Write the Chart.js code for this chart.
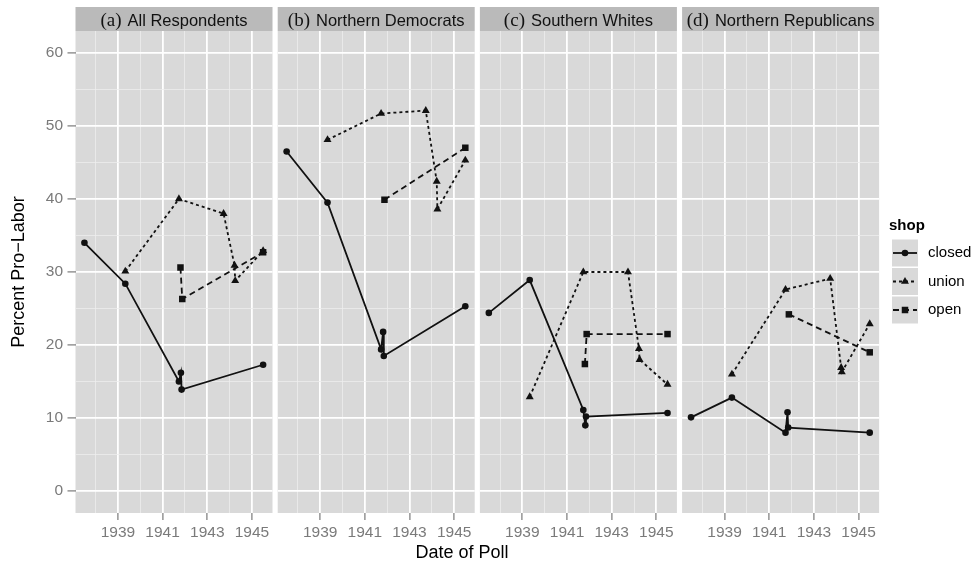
<!DOCTYPE html>
<html>
<head>
<meta charset="utf-8">
<title>Percent Pro-Labor by Date of Poll</title>
<script src="https://cdn.jsdelivr.net/npm/chart.js@4/dist/chart.umd.min.js"></script>
<style>
  html, body { margin: 0; padding: 0; background: #ffffff; }
  #wrap { position: relative; width: 975px; height: 565px; overflow: hidden; }
  #wrap canvas { position: absolute; left: 0; top: 0; }
</style>
</head>
<body>
<div id="wrap">
  <canvas id="panel0" width="975" height="565"></canvas>
  <canvas id="panel1" width="975" height="565"></canvas>
  <canvas id="panel2" width="975" height="565"></canvas>
  <canvas id="panel3" width="975" height="565"></canvas>
</div>
<script>
// ---- data ----------------------------------------------------------------
const panelTags  = ['(a)', '(b)', '(c)', '(d)'];
const panelNames = ['All Respondents', 'Northern Democrats', 'Southern Whites', 'Northern Republicans'];
const shopNames  = ['closed', 'union', 'open'];

// poll dates (decimal years) for each question wording
const closedDates = [1937.5, 1939.33, 1941.73, 1941.82, 1941.85, 1945.5];
const unionDates  = [1939.33, 1941.73, 1943.73, 1944.22, 1944.25, 1945.5];
const openDates   = [1941.8, 1941.88, 1945.5];

// percent pro-labor, one row per panel (a)-(d); null = not asked in that group
const closedPct = [
  [34.0, 28.4, 15.0, 16.2, 13.9, 17.3],
  [46.5, 39.5, 19.4, 21.8, 18.5, 25.3],
  [24.4, 28.9, 11.1,  9.0, 10.2, 10.7],
  [10.1, 12.8,  8.0, 10.8,  8.7,  8.0]
];
const unionPct = [
  [30.1, 40.0, 38.0, 30.9, 28.8, 32.9],
  [48.1, 51.7, 52.1, 42.4, 38.6, 45.3],
  [12.9, 30.0, 30.0, 19.5, 18.0, 14.6],
  [16.0, 27.6, 29.1, 16.9, 16.3, 22.9]
];
const openPct = [
  [30.6, 26.3, 32.7],
  [null, 39.9, 47.0],
  [17.4, 21.5, 21.5],
  [null, 24.2, 19.0]
];

// axis ticks: odd years / multiples of ten are labelled, the rest are minor grid
const xTickValues = [1938, 1939, 1940, 1941, 1942, 1943, 1944, 1945];
const xTickLabels = ['', '1939', '', '1941', '', '1943', '', '1945'];
const yTickValues = [0, 5, 10, 15, 20, 25, 30, 35, 40, 45, 50, 55, 60];
const yTickLabels = ['0', '', '10', '', '20', '', '30', '', '40', '', '50', '', '60'];

// ---- look ----------------------------------------------------------------
const SANS  = '"Liberation Sans", Arial, Helvetica, sans-serif';
const SERIF = '"Liberation Serif", "Times New Roman", serif';
Chart.defaults.font.family = SANS;

const W = 975, H = 565;
const PANEL_LEFT0 = 75.5, PANEL_STEP = 202.2, PANEL_W = 197;
const PLOT_TOP = 31, PLOT_BOTTOM = 513, STRIP_TOP = 7;
const X_MIN = 1937.1, X_MAX = 1945.92, Y_MIN = -3, Y_MAX = 63;

const PANEL_BG = '#d9d9d9';
const STRIP_BG = '#bababa';
const INK = '#111111';
const TICK_GREY = '#7a7a7a';

const shopStyle = {
  closed: { dash: [],     pointStyle: 'circle',   radius: 3.3 },
  union:  { dash: [3, 3], pointStyle: 'triangle', radius: 4.6 },
  open:   { dash: [6, 4], pointStyle: 'rect',     radius: 4.6 }
};

function points(dates, values) {
  return dates.map((d, k) => ({ x: d, y: values[k] })).filter(p => p.y !== null);
}

function datasetsFor(i) {
  const series = { closed: [closedDates, closedPct[i]], union: [unionDates, unionPct[i]], open: [openDates, openPct[i]] };
  return shopNames.map(name => {
    const s = shopStyle[name];
    return {
      label: name,
      data: points(series[name][0], series[name][1]),
      borderColor: INK,
      borderWidth: 1.8,
      borderDash: s.dash,
      pointStyle: s.pointStyle,
      pointRadius: s.radius,
      pointBackgroundColor: INK,
      pointBorderWidth: 0,
      fill: false,
      tension: 0
    };
  });
}

// grey panel, strip and strip label behind each facet
const facetPlugin = {
  id: 'facet',
  beforeDraw(chart, args, opts) {
    const { ctx, chartArea: a } = chart;
    ctx.save();
    ctx.fillStyle = PANEL_BG;
    ctx.fillRect(a.left, a.top, a.right - a.left, a.bottom - a.top);
    ctx.fillStyle = STRIP_BG;
    ctx.fillRect(a.left, STRIP_TOP, a.right - a.left, a.top - STRIP_TOP);

    const tagFont = '19px ' + SERIF, nameFont = '16.5px ' + SANS, gap = 6;
    ctx.font = tagFont;  const wt = ctx.measureText(opts.tag).width;
    ctx.font = nameFont; const wn = ctx.measureText(opts.name).width;
    const x0 = (a.left + a.right) / 2 - (wt + gap + wn) / 2;
    ctx.fillStyle = INK;
    ctx.textAlign = 'left';
    ctx.textBaseline = 'alphabetic';
    ctx.font = tagFont;  ctx.fillText(opts.tag, x0, 26);
    ctx.font = nameFont; ctx.fillText(opts.name, x0 + wt + gap, 26);
    ctx.restore();
  }
};

function keyPoint(ctx, style, x, y, r) {
  ctx.beginPath();
  if (style === 'circle') {
    ctx.arc(x, y, r, 0, Math.PI * 2);
  } else if (style === 'triangle') {
    ctx.moveTo(x, y - r);
    ctx.lineTo(x + r * 0.866, y + r / 2);
    ctx.lineTo(x - r * 0.866, y + r / 2);
    ctx.closePath();
  } else {
    const s = r * Math.SQRT1_2;
    ctx.rect(x - s, y - s, 2 * s, 2 * s);
  }
  ctx.fill();
}

// shared x title and the shop legend, drawn on the last facet's canvas
const guidePlugin = {
  id: 'guides',
  afterDraw(chart) {
    const ctx = chart.ctx;
    ctx.save();
    ctx.fillStyle = '#000';
    ctx.font = '18px ' + SANS;
    ctx.textAlign = 'center';
    ctx.textBaseline = 'middle';
    ctx.fillText('Date of Poll', 462, 553);

    ctx.textAlign = 'left';
    ctx.font = 'bold 15px ' + SANS;
    ctx.fillText('shop', 889, 226);

    const keyX = 892, keyW = 26, keyH = 27, keyTops = [239.5, 268, 296.5];
    shopNames.forEach((name, k) => {
      const s = shopStyle[name];
      const top = keyTops[k], cy = top + keyH / 2;
      ctx.fillStyle = PANEL_BG;
      ctx.fillRect(keyX, top, keyW, keyH);
      ctx.strokeStyle = INK;
      ctx.lineWidth = 1.8;
      ctx.setLineDash(s.dash);
      ctx.beginPath();
      ctx.moveTo(keyX + 1, cy);
      ctx.lineTo(keyX + keyW - 1, cy);
      ctx.stroke();
      ctx.setLineDash([]);
      ctx.fillStyle = INK;
      keyPoint(ctx, s.pointStyle, keyX + keyW / 2, cy, s.radius);
      ctx.fillStyle = '#000';
      ctx.font = '15px ' + SANS;
      ctx.textBaseline = 'middle';
      ctx.fillText(name, 928, cy);
    });
    ctx.restore();
  }
};

const isMajorX = v => xTickLabels[xTickValues.indexOf(v)] !== '';
const isMajorY = v => yTickLabels[yTickValues.indexOf(v)] !== '';

function makePanel(i) {
  const left = PANEL_LEFT0 + i * PANEL_STEP;
  const first = i === 0;
  return new Chart(document.getElementById('panel' + i), {
    type: 'line',
    data: { datasets: datasetsFor(i) },
    plugins: i === 3 ? [facetPlugin, guidePlugin] : [facetPlugin],
    options: {
      responsive: false,
      animation: false,
      events: [],
      layout: { padding: { left: first ? 0 : left, right: W - left - PANEL_W, top: PLOT_TOP, bottom: 0 } },
      plugins: {
        legend: { display: false },
        tooltip: { enabled: false },
        facet: { tag: panelTags[i], name: panelNames[i] }
      },
      scales: {
        x: {
          type: 'linear',
          min: X_MIN,
          max: X_MAX,
          afterBuildTicks: s => { s.ticks = xTickValues.map(v => ({ value: v })); },
          afterFit: s => { s.height = H - PLOT_BOTTOM; },
          border: { display: false },
          grid: {
            color: c => isMajorX(c.tick.value) ? '#ffffff' : '#eeeeee',
            lineWidth: c => isMajorX(c.tick.value) ? 1.8 : 0.8,
            tickColor: c => isMajorX(c.tick.value) ? TICK_GREY : 'rgba(0,0,0,0)',
            tickLength: 7,
            tickWidth: 1.2
          },
          ticks: {
            autoSkip: false,
            maxRotation: 0,
            padding: 3,
            color: TICK_GREY,
            font: { size: 15.5 },
            callback: (v, idx) => xTickLabels[idx]
          }
        },
        y: {
          type: 'linear',
          min: Y_MIN,
          max: Y_MAX,
          afterBuildTicks: s => { s.ticks = yTickValues.map(v => ({ value: v })); },
          afterFit: s => { s.width = first ? PANEL_LEFT0 : 0; },
          border: { display: false },
          grid: {
            color: c => isMajorY(c.tick.value) ? '#ffffff' : '#eeeeee',
            lineWidth: c => isMajorY(c.tick.value) ? 1.8 : 0.8,
            tickColor: c => isMajorY(c.tick.value) ? TICK_GREY : 'rgba(0,0,0,0)',
            drawTicks: first,
            tickLength: 8,
            tickWidth: 1.2
          },
          ticks: {
            display: first,
            padding: 4.5,
            color: TICK_GREY,
            font: { size: 15.5 },
            callback: (v, idx) => yTickLabels[idx]
          },
          title: {
            display: first,
            text: 'Percent Pro\u2212Labor',
            color: '#000',
            font: { size: 18 },
            padding: { top: 8, bottom: 0 }
          }
        }
      }
    }
  });
}

[0, 1, 2, 3].forEach(makePanel);
</script>
</body>
</html>
